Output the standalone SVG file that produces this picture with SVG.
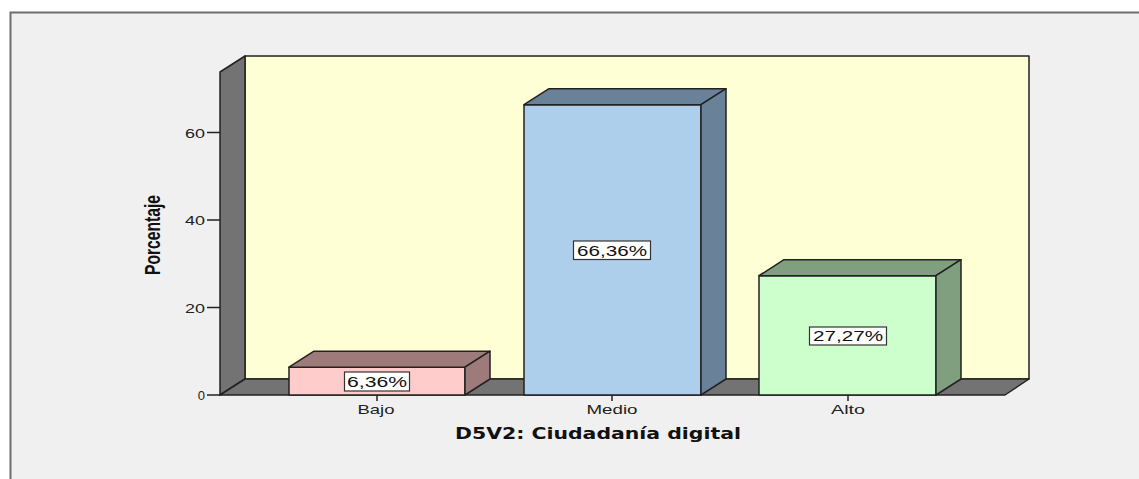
<svg xmlns="http://www.w3.org/2000/svg" width="1139" height="479" viewBox="0 0 1139 479">
<style>
.ol{stroke:#222;stroke-width:1.5;stroke-linejoin:round}
.tick{stroke:#222;stroke-width:1.5}
.ax{font-family:"Liberation Sans",Arial,sans-serif;font-size:13px;fill:#222}
.lbl{font-family:"Liberation Sans",Arial,sans-serif;font-size:14px;fill:#111}
.box{fill:#fff;stroke:#333;stroke-width:1.2}
</style>
<rect x="0" y="0" width="1139" height="479" fill="#fff"/>
<rect x="10.5" y="12.5" width="1140" height="480" fill="#f0f0f0" stroke="#6e6e6e" stroke-width="2"/>
<g id="walls">
<rect class="ol" x="245" y="56" width="784" height="323" fill="#ffffd6"/>
<polygon class="ol" points="220,72 245,56 245,379 220,395" fill="#737373"/>
<polygon class="ol" points="220,395 1005,395 1029,379 245,379" fill="#737373"/>
</g>
<g id="axis-y">
<line class="tick" x1="207" y1="395" x2="220" y2="395"/>
<line class="tick" x1="207" y1="307.5" x2="220" y2="307.5"/>
<line class="tick" x1="207" y1="220" x2="220" y2="220"/>
<line class="tick" x1="207" y1="132.5" x2="220" y2="132.5"/>
<text class="ax" x="205" y="400" text-anchor="end">0</text>
<text class="ax" x="205" y="312.5" text-anchor="end" textLength="20" lengthAdjust="spacingAndGlyphs">20</text>
<text class="ax" x="205" y="225" text-anchor="end" textLength="20" lengthAdjust="spacingAndGlyphs">40</text>
<text class="ax" x="205" y="137.5" text-anchor="end" textLength="20" lengthAdjust="spacingAndGlyphs">60</text>
<text x="160" y="235" transform="rotate(-90 160 235)" text-anchor="middle" font-family="'Liberation Sans',Arial,sans-serif" font-weight="bold" font-size="22" fill="#111" textLength="80" lengthAdjust="spacingAndGlyphs">Porcentaje</text>
</g>
<g id="bar-bajo">
<rect class="ol" x="289" y="367.2" width="176" height="27.8" fill="#ffcccc"/>
<polygon class="ol" points="289,367.2 314,351.2 490,351.2 465,367.2" fill="#9e7b7b"/>
<polygon class="ol" points="465,367.2 490,351.2 490,379 465,395" fill="#9e7b7b"/>
<rect class="box" x="344.5" y="372" width="65" height="19"/>
<text class="lbl" x="377" y="386.5" text-anchor="middle" textLength="60" lengthAdjust="spacingAndGlyphs">6,36%</text>
</g>
<g id="bar-medio">
<rect class="ol" x="524" y="104.7" width="177" height="290.3" fill="#aecfec"/>
<polygon class="ol" points="524,104.7 549,88.7 726,88.7 701,104.7" fill="#69829a"/>
<polygon class="ol" points="701,104.7 726,88.7 726,379 701,395" fill="#69829a"/>
<rect class="box" x="573.5" y="241" width="77" height="18.5"/>
<text class="lbl" x="612" y="255.5" text-anchor="middle" textLength="70" lengthAdjust="spacingAndGlyphs">66,36%</text>
</g>
<g id="bar-alto">
<rect class="ol" x="759" y="275.7" width="177" height="119.3" fill="#ccffcc"/>
<polygon class="ol" points="759,275.7 784,259.7 961,259.7 936,275.7" fill="#7f9f7f"/>
<polygon class="ol" points="936,275.7 961,259.7 961,379 936,395" fill="#7f9f7f"/>
<rect class="box" x="809.5" y="327" width="77" height="18"/>
<text class="lbl" x="848" y="341" text-anchor="middle" textLength="70" lengthAdjust="spacingAndGlyphs">27,27%</text>
</g>
<g id="axis-x">
<line class="tick" x1="377" y1="395" x2="377" y2="401"/>
<line class="tick" x1="612" y1="395" x2="612" y2="401"/>
<line class="tick" x1="848" y1="395" x2="848" y2="401"/>
<text class="ax" x="376" y="414" text-anchor="middle" textLength="37" lengthAdjust="spacingAndGlyphs">Bajo</text>
<text class="ax" x="612" y="414" text-anchor="middle" textLength="51" lengthAdjust="spacingAndGlyphs">Medio</text>
<text class="ax" x="848" y="414" text-anchor="middle" textLength="34" lengthAdjust="spacingAndGlyphs">Alto</text>
<text x="455" y="439" font-family="'DejaVu Sans',Verdana,sans-serif" font-weight="bold" font-size="16" fill="#111" textLength="286" lengthAdjust="spacingAndGlyphs">D5V2: Ciudadanía digital</text>
</g>
</svg>
